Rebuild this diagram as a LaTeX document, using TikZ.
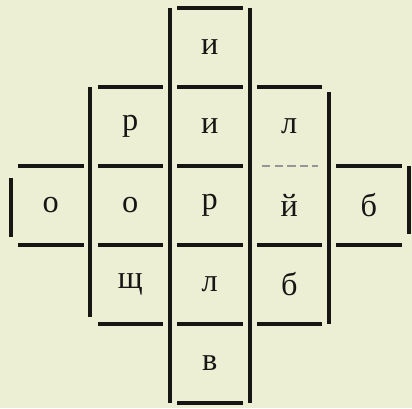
\documentclass[tikz,border=0pt]{standalone}
\usepackage{fontspec}
\setmainfont{Liberation Serif}
\usepackage{xcolor}
\usepackage{tikz}
\usetikzlibrary{positioning}
\definecolor{paperTone}{RGB}{237, 239, 212}
\definecolor{inkDark}{RGB}{22, 22, 20}

\begin{document}
\begin{tikzpicture}[
    x=0.025cm, y=-0.025cm,
    font=\fontsize{23}{26}\selectfont,
    cell/.style={rectangle, minimum width=1.9875cm, minimum height=1.975cm,
        inner sep=0pt, draw=none, text=inkDark},
    hwall/.style={line width=2.6pt, inkDark, shorten <=5.5pt, shorten >=5pt},
    vwall/.style={line width=2.6pt, inkDark, shorten <=0.5pt, shorten >=0.5pt},
    faintwall/.style={line width=1.6pt, inkDark!45, dash pattern=on 6pt off 3pt,
        shorten <=9pt, shorten >=8pt}
]
\fill[paperTone] (0,0) rectangle (412,408);
\useasboundingbox (0,0) rectangle (412,408);

% letters
\node[cell] (i1)   at (209.75,47.5)  {и};
\node[cell] (p1)   at (130.25,126.5) {р};
\node[cell] (i2)   at (209.75,126.5) {и};
\node[cell] (l1)   at (289.25,126.5) {л};
\node[cell] (o1)   at (50.75,205.5)  {о};
\node[cell] (o2)   at (130.25,205.5) {о};
\node[cell] (p2)   at (209.75,205.5) {р};
\node[cell] (j1)   at (289.25,205.5) {й};
\node[cell] (b1)   at (368.75,205.5) {б};
\node[cell] (shch) at (130.25,284.5) {щ};
\node[cell] (l2)   at (209.75,284.5) {л};
\node[cell] (b2)   at (289.25,284.5) {б};
\node[cell] (v)    at (209.75,363.5) {в};

% horizontal walls
\draw[hwall] (i1.north west) -- (i1.north east);
\draw[hwall] (p1.north west) -- (p1.north east);
\draw[hwall] (i2.north west) -- (i2.north east);
\draw[hwall] (l1.north west) -- (l1.north east);
\draw[hwall] (o1.north west) -- (o1.north east);
\draw[hwall] (o2.north west) -- (o2.north east);
\draw[hwall] (p2.north west) -- (p2.north east);
\draw[faintwall] (j1.north west) -- (j1.north east);
\draw[hwall] (b1.north west) -- (b1.north east);
\draw[hwall] (o1.south west) -- (o1.south east);
\draw[hwall] (shch.north west) -- (shch.north east);
\draw[hwall] (l2.north west) -- (l2.north east);
\draw[hwall] (b2.north west) -- (b2.north east);
\draw[hwall] (b1.south west) -- (b1.south east);
\draw[hwall] (shch.south west) -- (shch.south east);
\draw[hwall] (v.north west) -- (v.north east);
\draw[hwall] (b2.south west) -- (b2.south east);
\draw[hwall] (v.south west) -- (v.south east);

% vertical walls
\draw[vwall, shorten <=9pt, shorten >=6pt] (o1.north west) -- (o1.south west);
\draw[vwall] (p1.north west) -- (p1.south west);
\draw[vwall] (o2.north west) -- (o2.south west);
\draw[vwall, shorten >=5pt] (shch.north west) -- (shch.south west);
\draw[vwall] (i1.north west) -- (i1.south west);
\draw[vwall] (i2.north west) -- (i2.south west);
\draw[vwall] (p2.north west) -- (p2.south west);
\draw[vwall] (l2.north west) -- (l2.south west);
\draw[vwall] (v.north west) -- (v.south west);
\draw[vwall] (i1.north east) -- (i1.south east);
\draw[vwall] (i2.north east) -- (i2.south east);
\draw[vwall] (p2.north east) -- (p2.south east);
\draw[vwall] (l2.north east) -- (l2.south east);
\draw[vwall] (v.north east) -- (v.south east);
\draw[vwall, shorten <=4pt] (l1.north east) -- (l1.south east);
\draw[vwall] (j1.north east) -- (j1.south east);
\draw[vwall] (b2.north east) -- (b2.south east);
\draw[vwall, shorten >=8pt] (b1.north east) -- (b1.south east);
\end{tikzpicture}
\end{document}
